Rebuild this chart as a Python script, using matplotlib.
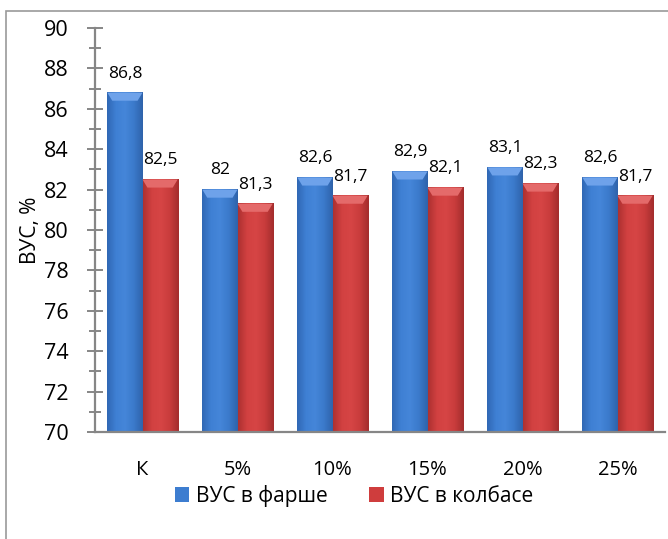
import matplotlib
matplotlib.use('Agg')
import matplotlib.pyplot as plt
from matplotlib.patches import Rectangle, Polygon
from matplotlib.colors import LinearSegmentedColormap
from matplotlib.ticker import MultipleLocator
import numpy as np

plt.rcParams['font.family'] = ['Open Sans', 'DejaVu Sans']

categories = ['К', '5%', '10%', '15%', '20%', '25%']
farsh = [86.8, 82.0, 82.6, 82.9, 83.1, 82.6]
kolbasa = [82.5, 81.3, 81.7, 82.1, 82.3, 81.7]
series_names = ['ВУС в фарше', 'ВУС в колбасе']
y_label = 'ВУС, %'

blue = '#3d7dd0'
red = '#cf3d3d'
axis_grey = '#868686'

# edge -> centre -> edge shading of the bars
blue_cmap = LinearSegmentedColormap.from_list(
    'b', ['#3068b5', '#3f80d4', '#4586d9', '#3b7acb', '#2f63ab'])
red_cmap = LinearSegmentedColormap.from_list(
    'r', ['#ad3131', '#d24141', '#d64545', '#c93c3c', '#a32d2d'])
bevel = {'b': '#6ea2ea', 'r': '#e46a6a'}

fig = plt.figure(figsize=(6.68, 5.39), dpi=100)
ax = fig.add_axes([95 / 668, 107 / 539, 570 / 668, 404 / 539])

# outer chart frame like the Excel chart area
fig.patches.append(Rectangle((6 / 668, -0.01), 1.0, 0.995 - 8 / 539 + 0.01,
                             transform=fig.transFigure, fill=False,
                             edgecolor='#9a9a9a', lw=1.2))

x = np.arange(len(categories))
w = 0.37
b1 = ax.bar(x - w / 2, np.array(farsh) - 70, w, bottom=70, color=blue,
            edgecolor='none', label=series_names[0])
b2 = ax.bar(x + w / 2, np.array(kolbasa) - 70, w, bottom=70, color=red,
            edgecolor='none', label=series_names[1])

grad = np.linspace(0, 1, 64).reshape(1, -1)
for bars, cmap, key in ((b1, blue_cmap, 'b'), (b2, red_cmap, 'r')):
    for r in bars:
        x0, y0 = r.get_x(), r.get_y()
        bw, bh = r.get_width(), r.get_height()
        ax.imshow(grad, cmap=cmap, aspect='auto', zorder=2.1,
                  extent=(x0, x0 + bw, y0, y0 + bh), interpolation='bilinear')
        dh = 0.4
        dx = bw * 0.14
        ax.add_patch(Polygon([(x0, y0 + bh), (x0 + bw, y0 + bh),
                              (x0 + bw - dx, y0 + bh - dh),
                              (x0 + dx, y0 + bh - dh)],
                             closed=True, color=bevel[key], lw=0, zorder=2.2))

for bars, vals in ((b1, farsh), (b2, kolbasa)):
    for r, v in zip(bars, vals):
        txt = ('%g' % v).replace('.', ',')
        ax.annotate(txt, (r.get_x() + r.get_width() / 2, v),
                    xytext=(0, 8), textcoords='offset points',
                    ha='center', va='bottom', fontsize=12.5, zorder=3)

ax.set_xlim(-0.5, len(categories) - 0.5)
ax.set_ylim(70, 90)
ax.yaxis.set_major_locator(MultipleLocator(2))
ax.yaxis.set_minor_locator(MultipleLocator(1))
ax.set_xticks(x)
ax.set_xticklabels(categories)

for s in ('top', 'right'):
    ax.spines[s].set_visible(False)
for s in ('left', 'bottom'):
    ax.spines[s].set_color(axis_grey)
    ax.spines[s].set_linewidth(1.6)
    ax.spines[s].set_zorder(4)

ax.tick_params(axis='y', which='major', direction='inout', length=12,
               width=1.4, color=axis_grey, labelsize=15.5, pad=13)
ax.tick_params(axis='y', which='minor', direction='inout', length=9,
               width=1.4, color=axis_grey)
ax.tick_params(axis='x', length=0, labelsize=14.5, pad=20)

ax.set_ylabel(y_label, fontsize=15)
ax.yaxis.label.set_va('center')
ax.yaxis.set_label_coords(-65 / 570, 0.5)

fig.legend(loc='center', bbox_to_anchor=(0.53, 43 / 539), ncol=2,
           frameon=False, fontsize=15, handlelength=0.7, handleheight=0.7,
           handletextpad=0.3, columnspacing=2.0)

fig.savefig('out.png', dpi=100)
